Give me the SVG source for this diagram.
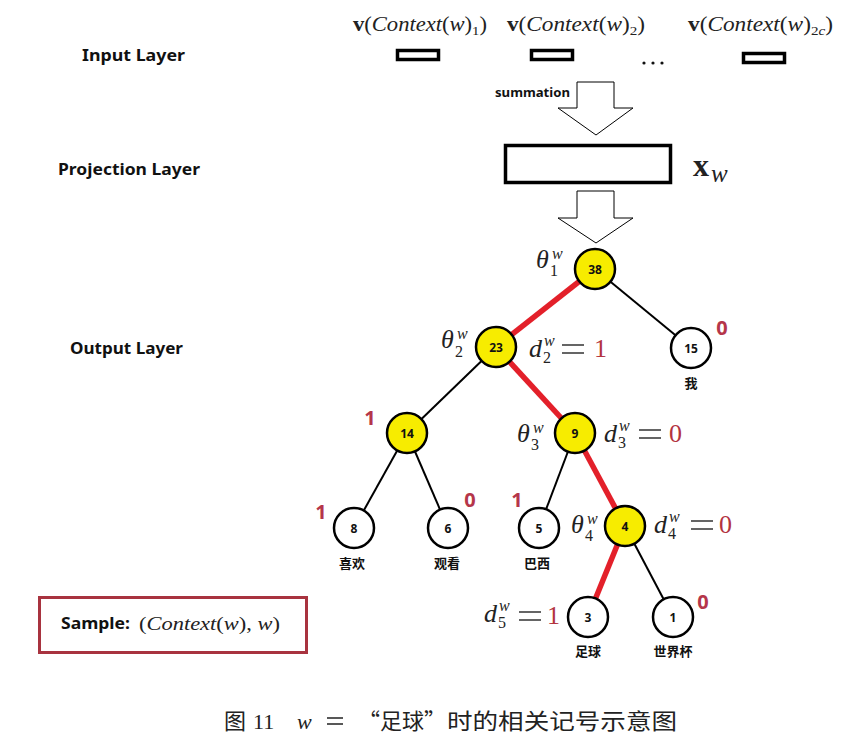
<svg xmlns="http://www.w3.org/2000/svg" width="863" height="751" viewBox="0 0 863 751">
<style>
.lay{font-family:"Noto Sans","Open Sans",sans-serif;font-weight:bold;font-size:16px;fill:#111}
.m{font-family:"Liberation Serif","DejaVu Serif",serif;fill:#222}
.mi{font-style:italic}
.big{font-size:26px}
.dd{font-size:26px}
.sm{font-size:16px}
.red{fill:#b3333f}
.bit{font-family:"Noto Sans","Open Sans",sans-serif;font-weight:bold;font-size:20px;fill:#b5364a;text-anchor:middle}
.nd circle{stroke:#000;stroke-width:2.5}
.y{fill:#f7ec00}
.w{fill:#fff}
.nt{font-family:"Noto Sans","Open Sans",sans-serif;font-weight:bold;font-size:12px;fill:#111;text-anchor:middle}
.cj{font-family:"Noto Sans CJK SC",sans-serif;font-weight:bold;font-size:13px;fill:#111;text-anchor:middle}
.eb{stroke:#000;stroke-width:2;fill:none}
.er{stroke:#e3202a;stroke-width:5.5;fill:none}
.box{fill:#fff;stroke:#000;stroke-width:3.5}
.arr{fill:#fff;stroke:#000;stroke-width:1}
</style>
<defs>
<path id="eq" d="M0,-12 H22 M0,-4 H22" stroke="#333" stroke-width="1.6" fill="none"/>
</defs>
<rect width="863" height="751" fill="#fff"/>

<g id="layer-labels">
<text class="lay" x="82" y="61" textLength="103" lengthAdjust="spacingAndGlyphs">Input  Layer</text>
<text class="lay" x="58" y="175" textLength="142" lengthAdjust="spacingAndGlyphs">Projection  Layer</text>
<text class="lay" x="70" y="354" textLength="113" lengthAdjust="spacingAndGlyphs">Output Layer</text>
</g>

<g id="input-layer">
<text class="m" x="353" y="31" font-size="20" textLength="134" lengthAdjust="spacingAndGlyphs"><tspan font-weight="bold">v</tspan>(<tspan class="mi">Context</tspan>(<tspan class="mi">w</tspan>)<tspan font-size="13" dy="4">1</tspan><tspan dy="-4">)</tspan></text>
<text class="m" x="507" y="31" font-size="20" textLength="138" lengthAdjust="spacingAndGlyphs"><tspan font-weight="bold">v</tspan>(<tspan class="mi">Context</tspan>(<tspan class="mi">w</tspan>)<tspan font-size="13" dy="4">2</tspan><tspan dy="-4">)</tspan></text>
<text class="m" x="688" y="31" font-size="20" textLength="145" lengthAdjust="spacingAndGlyphs"><tspan font-weight="bold">v</tspan>(<tspan class="mi">Context</tspan>(<tspan class="mi">w</tspan>)<tspan font-size="13" dy="4">2<tspan class="mi">c</tspan></tspan><tspan dy="-4">)</tspan></text>
<rect class="box" x="397.5" y="50.5" width="41" height="9"/>
<rect class="box" x="531.5" y="50.5" width="41" height="9"/>
<rect class="box" x="743.5" y="53.5" width="41" height="9"/>
<circle cx="644" cy="63" r="1.6" fill="#111"/>
<circle cx="653" cy="63" r="1.6" fill="#111"/>
<circle cx="662" cy="63" r="1.6" fill="#111"/>
</g>

<g id="summation">
<polygon class="arr" points="577,82 614,82 614,108 633,108 596,135 558,108 577,108"/>
<text x="495" y="97" font-family="Noto Sans,Open Sans,sans-serif" font-weight="bold" font-size="12" fill="#111" textLength="75" lengthAdjust="spacingAndGlyphs">summation</text>
</g>

<g id="projection">
<rect class="box" x="505.5" y="145.5" width="165" height="37"/>
<text class="m" x="693" y="176" font-size="32" font-weight="bold">x</text>
<text class="m mi" x="711" y="182" font-size="25">w</text>
<polygon class="arr" points="577,191 614,191 614,218 633,218 596,243 558,218 577,218"/>
</g>

<g id="connectors">
<line class="eb" x1="595" y1="269" x2="691" y2="348"/>
<line class="eb" x1="496" y1="347" x2="407" y2="433"/>
<line class="eb" x1="407" y1="433" x2="354" y2="528"/>
<line class="eb" x1="407" y1="433" x2="448" y2="528"/>
<line class="eb" x1="575" y1="433" x2="539" y2="528"/>
<line class="eb" x1="625" y1="526" x2="673" y2="617"/>
<line class="er" x1="595" y1="269" x2="496" y2="347"/>
<line class="er" x1="496" y1="347" x2="575" y2="433"/>
<line class="er" x1="575" y1="433" x2="625" y2="526"/>
<line class="er" x1="625" y1="526" x2="588" y2="617"/>
</g>

<g id="n38" class="nd"><circle class="y" cx="595" cy="269" r="20"/><text class="nt" x="595" y="273.5">38</text></g>
<g id="n23" class="nd"><circle class="y" cx="496" cy="347" r="20"/><text class="nt" x="496" y="351.5">23</text></g>
<g id="n15" class="nd"><circle class="w" cx="691" cy="348" r="20"/><text class="nt" x="691" y="352.5">15</text><text class="cj" x="691" y="388">我</text></g>
<g id="n14" class="nd"><circle class="y" cx="407" cy="433" r="20"/><text class="nt" x="407" y="437.5">14</text></g>
<g id="n9" class="nd"><circle class="y" cx="575" cy="433" r="20"/><text class="nt" x="575" y="437.5">9</text></g>
<g id="n8" class="nd"><circle class="w" cx="354" cy="528" r="20"/><text class="nt" x="354" y="532.5">8</text><text class="cj" x="352" y="568">喜欢</text></g>
<g id="n6" class="nd"><circle class="w" cx="448" cy="528" r="20"/><text class="nt" x="448" y="532.5">6</text><text class="cj" x="447" y="568">观看</text></g>
<g id="n5" class="nd"><circle class="w" cx="539" cy="528" r="20"/><text class="nt" x="539" y="532.5">5</text><text class="cj" x="537" y="568">巴西</text></g>
<g id="n4" class="nd"><circle class="y" cx="625" cy="526" r="20"/><text class="nt" x="625" y="530.5">4</text></g>
<g id="n3" class="nd"><circle class="w" cx="588" cy="617" r="20"/><text class="nt" x="588" y="621.5">3</text><text class="cj" x="588" y="656">足球</text></g>
<g id="n1" class="nd"><circle class="w" cx="673" cy="617" r="20"/><text class="nt" x="673" y="621.5">1</text><text class="cj" x="673" y="656">世界杯</text></g>

<g id="theta-labels">
<text class="m mi big" x="536" y="268">θ</text><text class="m mi sm" x="552" y="259">w</text><text class="m sm" x="550" y="276">1</text>
<text class="m mi big" x="441" y="348">θ</text><text class="m mi sm" x="457" y="339">w</text><text class="m sm" x="455" y="357">2</text>
<text class="m mi big" x="517" y="442">θ</text><text class="m mi sm" x="533" y="433">w</text><text class="m sm" x="531" y="450">3</text>
<text class="m mi big" x="571" y="533">θ</text><text class="m mi sm" x="587" y="524">w</text><text class="m sm" x="585" y="541">4</text>
</g>

<g id="d-labels">
<text class="m mi dd" x="529" y="357">d</text><text class="m mi sm" x="544" y="346">w</text><text class="m sm" x="543" y="363">2</text>
<use href="#eq" x="562" y="357"/><text class="m big red" x="594" y="357">1</text>
<text class="m mi dd" x="604" y="442">d</text><text class="m mi sm" x="619" y="431">w</text><text class="m sm" x="618" y="448">3</text>
<use href="#eq" x="639" y="442"/><text class="m big red" x="669" y="442">0</text>
<text class="m mi dd" x="654" y="533">d</text><text class="m mi sm" x="669" y="522">w</text><text class="m sm" x="668" y="539">4</text>
<use href="#eq" x="691" y="533"/><text class="m big red" x="719" y="533">0</text>
<text class="m mi dd" x="484" y="622">d</text><text class="m mi sm" x="499" y="611">w</text><text class="m sm" x="498" y="628">5</text>
<use href="#eq" x="519" y="624"/><text class="m big red" x="547" y="624">1</text>
</g>

<g id="bit-labels">
<text class="bit" x="722" y="335">0</text>
<text class="bit" x="370" y="425">1</text>
<text class="bit" x="321" y="519">1</text>
<text class="bit" x="470" y="507">0</text>
<text class="bit" x="517" y="507">1</text>
<text class="bit" x="703" y="609">0</text>
</g>

<g id="sample">
<rect x="39.5" y="597.5" width="267" height="55" fill="#fff" stroke="#a8333f" stroke-width="3"/>
<text x="61" y="629" font-family="Noto Sans,Open Sans,sans-serif" font-weight="bold" font-size="16" fill="#111" textLength="69" lengthAdjust="spacingAndGlyphs">Sample:</text>
<text class="m" x="139" y="630" font-size="19" textLength="141" lengthAdjust="spacingAndGlyphs">(<tspan class="mi">Context</tspan>(<tspan class="mi">w</tspan>), <tspan class="mi">w</tspan>)</text>
</g>

<g id="caption">
<text x="224" y="729" font-family="Noto Sans CJK SC,sans-serif" font-size="22" fill="#222">图</text>
<text class="m" x="253" y="729" font-size="22">11</text>
<text class="m mi" x="297" y="729" font-size="22">w</text>
<path d="M327,718 H343 M327,724 H343" stroke="#222" stroke-width="1.4"/>
<text x="358" y="729" font-family="Noto Sans CJK SC,sans-serif" font-size="22" fill="#222">“足球”</text>
<text x="447" y="729" font-family="Noto Sans CJK SC,sans-serif" font-size="22" fill="#222" textLength="230" lengthAdjust="spacingAndGlyphs">时的相关记号示意图</text>
</g>
</svg>
